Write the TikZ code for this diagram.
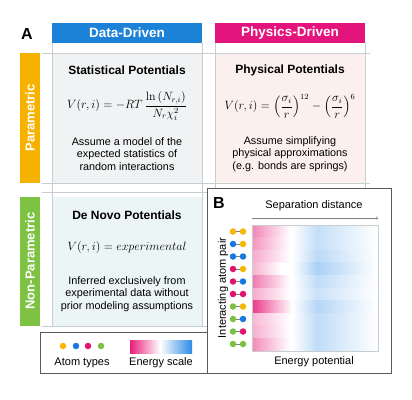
\documentclass[tikz,border=0pt]{standalone}
\usepackage{amsmath}
\usepackage{amssymb}
\usepackage[no-math]{fontspec}
\setmainfont{Liberation Sans}
\usepackage{tikz}
\usetikzlibrary{arrows}
\definecolor{ddblue}{RGB}{27,130,216}
\definecolor{pdmag}{RGB}{228,20,125}
\definecolor{parorange}{RGB}{247,178,0}
\definecolor{npgreen}{RGB}{125,194,66}
\definecolor{gridgray}{RGB}{200,205,208}
\definecolor{boxgray}{RGB}{90,90,90}
\definecolor{cellgray}{RGB}{240,242,243}
\definecolor{cellpink}{RGB}{252,240,238}
\definecolor{cellcyan}{RGB}{236,245,246}
\definecolor{aorange}{RGB}{245,183,0}
\definecolor{ablue}{RGB}{24,119,224}
\definecolor{apink}{RGB}{224,20,111}
\definecolor{agreen}{RGB}{122,193,67}
\definecolor{epink}{RGB}{233,30,122}
\definecolor{eblue}{RGB}{45,138,230}

\begin{document}
\begin{tikzpicture}[x=1pt,y=-1pt,
  header/.style={font=\fontsize{13.5}{15}\selectfont\bfseries,text=white},
  sidebar/.style={rotate=90,font=\fontsize{13}{15}\selectfont\bfseries,text=white},
  celltitle/.style={font=\fontsize{12}{14}\selectfont\bfseries},
  formula/.style={font=\fontsize{12}{14}\selectfont,inner sep=0pt},
  celltext/.style={align=center,font=\fontsize{10.8}{12.6}\selectfont,inner sep=0pt},
  paneltag/.style={font=\fontsize{16}{18}\selectfont\bfseries},
  plaintext/.style={font=\fontsize{11}{13}\selectfont},
  atom/.style={circle,inner sep=0pt,minimum size=6.5pt},
  pairline/.style={color=gray,line width=0.8pt}]
\useasboundingbox (0,0) rectangle (412,399);
\fill[color=white] (0,0) rectangle (412,399);
\fill[color=ddblue] (52,23) rectangle (202,43);
\fill[color=pdmag] (215,23) rectangle (365,43);
\fill[color=parorange] (20,53) rectangle (40,183);
\fill[color=npgreen] (20,197) rectangle (40,326);
\fill[color=cellgray] (52,53) rectangle (202,183);
\fill[color=cellpink] (215,53) rectangle (365,183);
\fill[color=cellcyan] (52,197) rectangle (202,326);
\fill[color=cellpink] (215,197) rectangle (365,326);
\draw [color=gridgray] (42,53)-- (370,53);
\draw [color=gridgray] (42,183)-- (370,183);
\draw [color=gridgray] (42,192)-- (370,192);
\draw [color=gridgray] (42,326)-- (370,326);
\draw [color=gridgray] (52,43)-- (52,326);
\draw [color=gridgray] (202,43)-- (202,326);
\draw [color=gridgray] (215,43)-- (215,326);
\draw [color=gridgray] (365,43)-- (365,326);
\node[header] (datahead) at (127,33) {Data-Driven};
\node[header] (physhead) at (290,33) {Physics-Driven};
\node[sidebar] (parlabel) at (30,118) {Parametric};
\node[sidebar] (nonparlabel) at (30,261) {Non-Parametric};
\node[paneltag] (tagA) at (27,34) {A};
\node[celltitle] (stattitle) at (127,70) {Statistical Potentials};
\node[formula] (statformula) at (127,106) {$V(r,i) = -RT\,\dfrac{\ln\left(N_{r,i}\right)}{N_r\chi_i^2}$};
\node[celltext] (stattext) at (127,154) {Assume a model of the\\expected statistics of\\random interactions};
\node[celltitle] (phystitle) at (290,70) {Physical Potentials};
\node[formula] (physformula) at (290,106) {$V(r,i) = \left(\dfrac{\sigma_i}{r}\right)^{12} - \left(\dfrac{\sigma_i}{r}\right)^{6}$};
\node[celltext] (phystext) at (290,154) {Assume simplifying\\physical approximations\\(e.g. bonds are springs)};
\node[celltitle] (novotitle) at (127,215) {De Novo Potentials};
\node[formula] (novoformula) at (127,247) {$V(r,i) = experimental$};
\node[celltext] (novotext) at (127,294) {Inferred exclusively from\\experimental data without\\prior modeling assumptions};
\draw[color=boxgray,fill=white,line width=0.8pt] (40,332) rectangle (207,373);
\foreach \c/\x in {aorange/63,ablue/76,apink/88,agreen/101}
  \node[atom,fill=\c] (key\c) at (\x,346) {};
\node[plaintext] (atomtypes) at (82,363) {Atom types};
\shade[left color=epink,right color=white] (130,340) rectangle (160,353);
\shade[left color=white,right color=eblue] (160,340) rectangle (192,353);
\node[plaintext] (energyscale) at (161,363) {Energy scale};
\draw[color=boxgray,fill=white,line width=0.8pt] (207,188) rectangle (391,373);
\node[paneltag] (tagB) at (219,203) {B};
\node[plaintext] (sepdist) at (314,206) {Separation distance};
\coordinate (seps) at (252,218);
\coordinate (sepe) at (378,218);
\draw[->,color=gray] (seps) -- (sepe);
\foreach \i/\p/\e/\b in {0/55/290/28,1/48/290/28,2/38/290/32,3/35/281/40,4/60/290/30,5/38/290/25,6/88/292/35,7/32/290/30,8/36/290/30,9/52/290/30}{
  \shade[left color=epink!\p,right color=white] (252,{225+\i*12.6}) rectangle (\e,{225+(\i+1)*12.6});
  \shade[left color=white,right color=eblue!\b] (292,{225+\i*12.6}) rectangle (317,{225+(\i+1)*12.6});
  \shade[left color=eblue!\b,right color=white] (317,{225+\i*12.6}) rectangle (377,{225+(\i+1)*12.6});
}
\draw[color=gridgray] (252,225) rectangle (378,351);
\foreach \i/\ca/\cb in {0/aorange/aorange,1/ablue/aorange,2/ablue/ablue,3/apink/aorange,4/apink/ablue,5/apink/apink,6/agreen/aorange,7/agreen/ablue,8/agreen/apink,9/agreen/agreen}{
  \node[atom,fill=\ca] (la\i) at (233,{231.5+\i*12.5}) {};
  \node[atom,fill=\cb] (ra\i) at (243,{231.5+\i*12.5}) {};
  \draw[pairline] (la\i) -- (ra\i);
}
\node[plaintext,rotate=90] (atompair) at (223,288) {Interacting atom pair};
\node[plaintext] (energypot) at (314,362) {Energy potential};
\end{tikzpicture}
\end{document}
